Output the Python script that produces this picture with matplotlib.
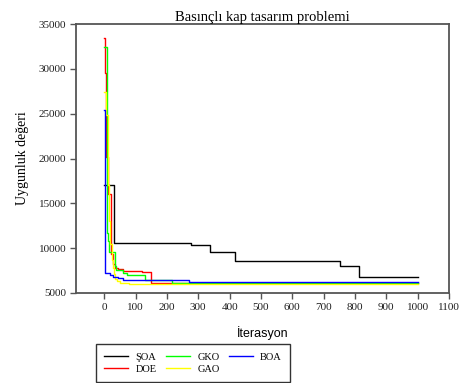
import matplotlib
matplotlib.use("Agg")
import matplotlib.pyplot as plt
import numpy as np

# convergence curves (iteration, best fitness)
soa_it = [0, 32, 278, 336, 418, 752, 813, 1000]
soa_v = [17040, 10580, 10350, 9600, 8620, 7980, 6820, 6820]

doe_it = [0, 3, 6, 12, 21, 28, 34, 45, 60, 120, 149, 1000]
doe_v = [33400, 29500, 20200, 16000, 9300, 8200, 7800, 7700, 7480, 7320, 6080, 6080]

gko_it = [0, 8, 12, 16, 33, 37, 60, 72, 131, 216, 1000]
gko_v = [32400, 11650, 10800, 9600, 8000, 7560, 7200, 7000, 6420, 6100, 6100]

gao_it = [0, 5, 12, 16, 20, 24, 28, 32, 36, 40, 50, 60, 80, 100, 1000]
gao_v = [27450, 24850, 17000, 13000, 10500, 8700, 7800, 7100, 6600, 6300, 6150, 6080, 6030, 6000, 6000]

boa_it = [0, 2, 4, 18, 28, 45, 60, 259, 270, 1000]
boa_v = [25400, 18800, 7200, 7000, 6820, 6700, 6500, 6500, 6200, 6200]

labels = ["ŞOA", "DOE", "GKO", "GAO", "BOA"]
colors = ["#000000", "#ff0000", "#00ff00", "#ffff00", "#0000ff"]
series = [(soa_it, soa_v), (doe_it, doe_v), (gko_it, gko_v), (gao_it, gao_v), (boa_it, boa_v)]

serif = ["Liberation Serif", "DejaVu Serif"]
sans = ["Liberation Sans", "DejaVu Sans"]

fig = plt.figure(figsize=(4.63, 3.83), dpi=100)
ax = fig.add_axes([76 / 463, 1 - 293 / 383, (449 - 76) / 463, (293 - 24) / 383])

lines = []
for (it, v), lab, c in zip(series, labels, colors):
    ln, = ax.plot(it, v, drawstyle="steps-post", color=c, lw=1.0, label=lab)
    lines.append(ln)

ax.set_xlim(-90, 1100)
ax.set_ylim(5000, 35000)
ax.set_xticks(np.arange(0, 1101, 100))
ax.set_yticks(np.arange(5000, 35001, 5000))

for s in ax.spines.values():
    s.set_color("#555555")
    s.set_linewidth(1.3)
ax.tick_params(direction="out", length=4, width=1, color="#555555",
               labelsize=8, labelcolor="#202020", pad=3)
for t in ax.get_xticklabels() + ax.get_yticklabels():
    t.set_family(serif)

ax.set_title("Basınçlı kap tasarım problemi", family=serif, fontsize=10.5, pad=2)
ax.set_ylabel("Uygunluk değeri", family=serif, fontsize=10, labelpad=7)
ax.set_xlabel("İterasyon", family=sans, fontsize=9, labelpad=10)

leg = fig.legend(handles=lines, labels=labels, ncol=3, loc="upper left",
                 bbox_to_anchor=(96 / 463, 1 - 344 / 383),
                 prop={"family": serif, "size": 7.5},
                 frameon=True, fancybox=False, edgecolor="#000000",
                 handlelength=2.3, handletextpad=0.7, columnspacing=0.9,
                 labelspacing=0.3, borderpad=0.8, borderaxespad=0)
leg.get_frame().set_linewidth(1.0)

fig.savefig("out.png", dpi=100)
